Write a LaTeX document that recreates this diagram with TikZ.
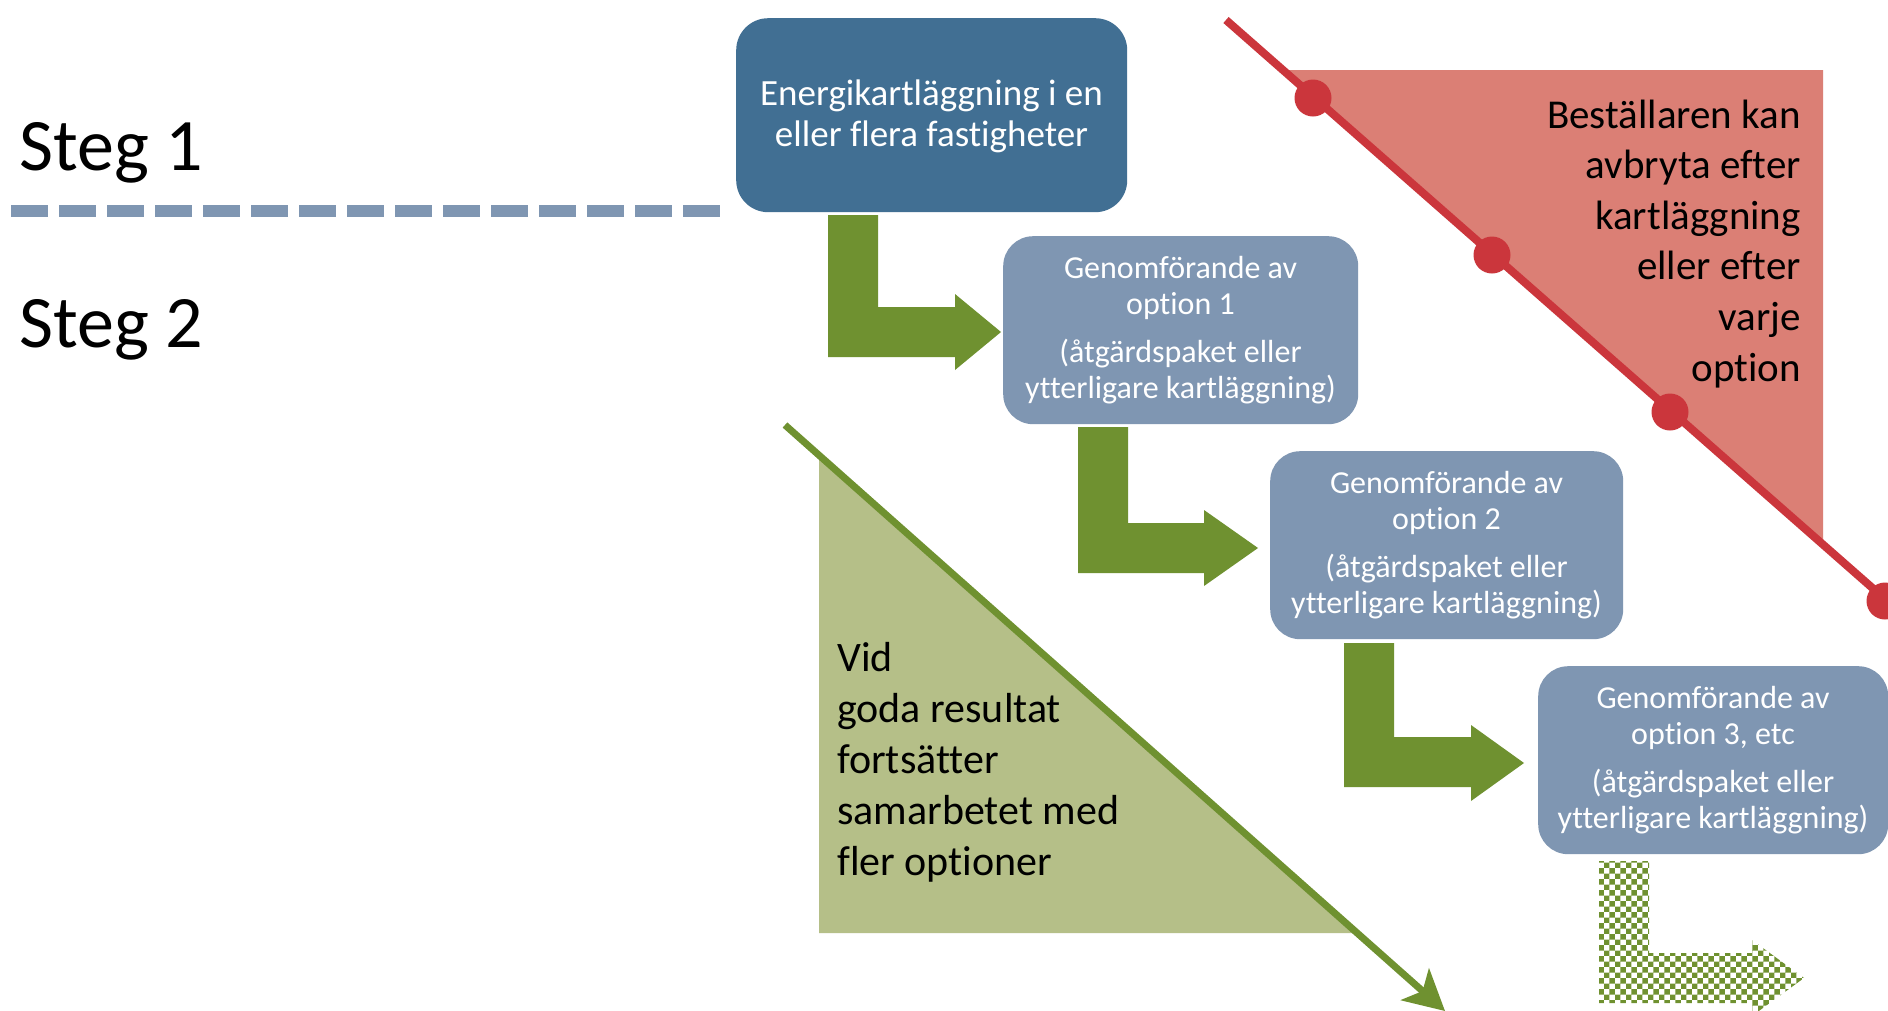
\documentclass[tikz,border=0pt]{standalone}
\usepackage{fontspec}
\setmainfont{Carlito}[Ligatures={NoCommon,NoRare,NoContextual}]
\usetikzlibrary{arrows.meta,patterns}
\definecolor{boxdark}{HTML}{416F93}
\definecolor{boxlight}{HTML}{7F96B2}
\definecolor{arrgreen}{HTML}{6F9130}
\definecolor{trigreen}{HTML}{B5BF88}
\definecolor{linered}{HTML}{CB363C}
\definecolor{trired}{HTML}{DB7F75}
\begin{document}
\begin{tikzpicture}[x=1pt,y=-1pt,
  stepbox/.style={fill=boxlight, rounded corners=30pt, inner sep=0pt, anchor=north west,
                  minimum width=353pt, minimum height=188pt},
  firstbox/.style={fill=boxdark, rounded corners=32pt, inner sep=0pt, anchor=north west,
                  minimum width=391pt, minimum height=194pt},
  boxtxt/.style={text=white, inner sep=0pt, anchor=base, font=\fontsize{32pt}{38pt}\selectfont},
  bigtxt/.style={text=white, inner sep=0pt, anchor=base, font=\fontsize{37pt}{44pt}\selectfont},
  steptxt/.style={text=black, inner sep=0pt, anchor=base west, font=\fontsize{74pt}{80pt}\selectfont},
  sidetxtR/.style={text=black, inner sep=0pt, anchor=base east, font=\fontsize{41pt}{50pt}\selectfont},
  sidetxtL/.style={text=black, inner sep=0pt, anchor=base west, font=\fontsize{42pt}{50pt}\selectfont},
  flowarrow/.style={fill=arrgreen},
  nextarrow/.style={pattern=checkerboard, pattern color=arrgreen},
  dashline/.style={draw=boxlight, line width=12pt, dash pattern=on 37pt off 11pt},
  redline/.style={draw=linered, line width=8pt},
  greenline/.style={draw=arrgreen, line width=7pt, -{Stealth[length=40pt,width=42pt,inset=10pt]}},
  reddot/.style={circle, fill=linered, minimum size=37pt, inner sep=0pt}
]
\clip (0,0) rectangle (1888,1010);
\fill[white] (0,0) rectangle (1888,1010);

% step labels and divider
\node[steptxt] (s1) at (19,170) {Steg 1};
\node[steptxt] (s2) at (19,347) {Steg 2};
\coordinate (d1) at (11,211);
\coordinate (d2) at (720,211);
\draw[dashline] (d1) -- (d2);

% red triangle, line and dots
\fill[trired] (1281,70) -- (1823,70) -- (1823,547) -- cycle;
\coordinate (r1) at (1226,20);
\coordinate (r2) at (1910,621);
\draw[redline] (r1) -- (r2);
\node[reddot] (rd1) at (1313,98) {};
\node[reddot] (rd2) at (1492,255) {};
\node[reddot] (rd3) at (1670,412) {};
\node[reddot] (rd4) at (1885,601) {};
\node[sidetxtR] (rt1) at (1801,128) {Beställaren kan};
\node[sidetxtR] (rt2) at (1801,178.6) {avbryta efter};
\node[sidetxtR] (rt3) at (1801,229.2) {kartläggning};
\node[sidetxtR] (rt4) at (1801,279.8) {eller efter};
\node[sidetxtR] (rt5) at (1801,330.4) {varje};
\node[sidetxtR] (rt6) at (1801,381) {option};

% green triangle and line
\fill[trigreen] (819,455) -- (819,933) -- (1357,933) -- cycle;
\coordinate (g1) at (785,425);
\coordinate (g2) at (1445,1011);
\draw[greenline] (g1) -- (g2);
\node[sidetxtL] (gt1) at (837,671) {Vid};
\node[sidetxtL] (gt2) at (837,722) {goda resultat};
\node[sidetxtL] (gt3) at (837,773) {fortsätter};
\node[sidetxtL] (gt4) at (837,824) {samarbetet med};
\node[sidetxtL] (gt5) at (837,875) {fler optioner};

% boxes
\node[firstbox] (b1) at (736,18) {};
\node[bigtxt] (b1a) at (931.5,105) {Energikartläggning i en};
\node[bigtxt] (b1b) at (931.5,146) {eller flera fastigheter};

\node[stepbox, minimum width=355pt] (b2) at (1003,236) {};
\node[boxtxt] (b2a) at (1180.5,278.5) {Genomförande av};
\node[boxtxt] (b2b) at (1180.5,314.5) {option 1};
\node[boxtxt] (b2c) at (1180.5,362.5) {(åtgärdspaket eller};
\node[boxtxt] (b2d) at (1180.5,398.5) {ytterligare kartläggning)};

\node[stepbox] (b3) at (1270,451) {};
\node[boxtxt] (b3a) at (1446.5,493.5) {Genomförande av};
\node[boxtxt] (b3b) at (1446.5,529.5) {option 2};
\node[boxtxt] (b3c) at (1446.5,577.5) {(åtgärdspaket eller};
\node[boxtxt] (b3d) at (1446.5,613.5) {ytterligare kartläggning)};

\node[stepbox, minimum width=350pt] (b4) at (1538,666) {};
\node[boxtxt] (b4a) at (1713,708.5) {Genomförande av};
\node[boxtxt] (b4b) at (1713,744.5) {option 3, etc};
\node[boxtxt] (b4c) at (1713,792.5) {(åtgärdspaket eller};
\node[boxtxt] (b4d) at (1713,828.5) {ytterligare kartläggning)};

% L-shaped block arrows
\fill[flowarrow] (828,215) -- (878,215) -- (878,307) -- (955,307) -- (955,294) -- (1001,332)
  -- (955,370) -- (955,357) -- (828,357) -- cycle;
\fill[flowarrow] (1078,427) -- (1128,427) -- (1128,523) -- (1204,523) -- (1204,510) -- (1258,548)
  -- (1204,586) -- (1204,573) -- (1078,573) -- cycle;
\fill[flowarrow] (1344,643) -- (1394,643) -- (1394,737) -- (1471,737) -- (1471,725) -- (1524,763)
  -- (1471,801) -- (1471,787) -- (1344,787) -- cycle;
\fill[nextarrow] (1599,861) -- (1649,861) -- (1649,953) -- (1752,953) -- (1752,940) -- (1804,978)
  -- (1752,1016) -- (1752,1003) -- (1599,1003) -- cycle;
\end{tikzpicture}
\end{document}
